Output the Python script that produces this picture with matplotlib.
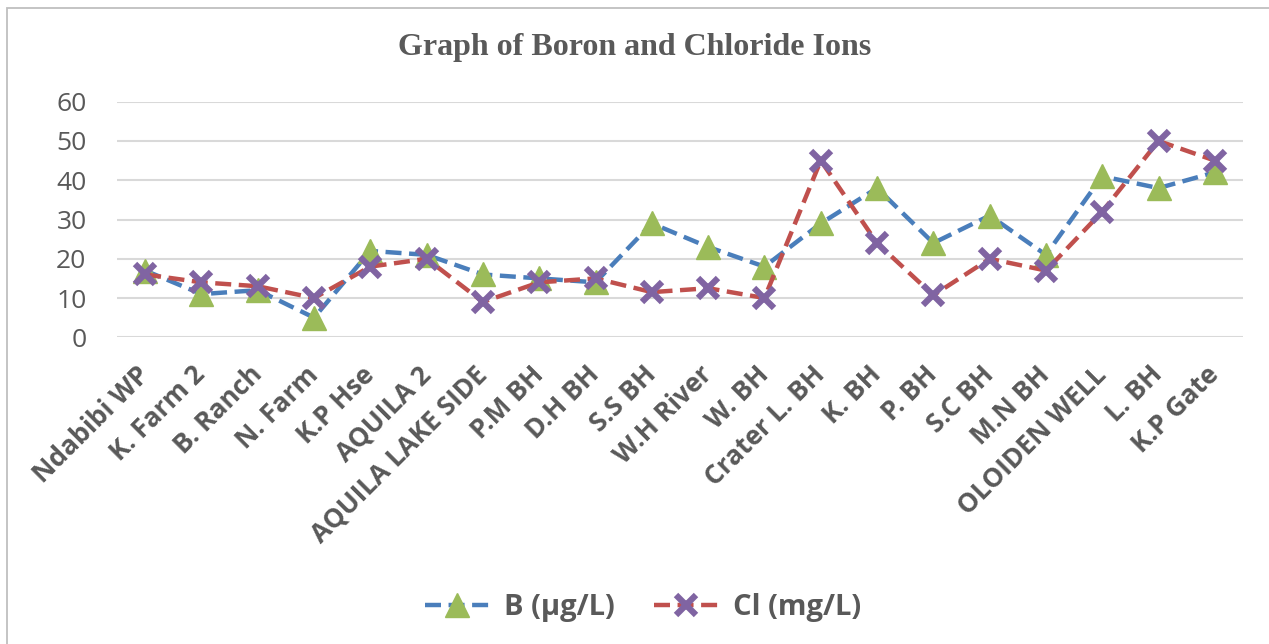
import matplotlib
matplotlib.use("Agg")
import matplotlib.pyplot as plt
from matplotlib.patches import Rectangle

sites = ["Ndabibi WP", "K. Farm 2", "B. Ranch", "N. Farm", "K.P Hse", "AQUILA 2",
         "AQUILA LAKE SIDE", "P.M BH", "D.H BH", "S.S BH", "W.H River", "W. BH",
         "Crater L. BH", "K. BH", "P. BH", "S.C BH", "M.N BH", "OLOIDEN WELL",
         "L. BH", "K.P Gate"]
boron = [17, 11, 12, 5, 22, 21, 16, 15, 14, 29, 23, 18, 29, 38, 24, 31, 21, 41, 38, 42]
chloride = [16, 14, 13, 10, 18, 20, 9, 14, 15, 11.5, 12.5, 10, 45, 24, 10.7, 20, 17, 32, 50, 45]
yticks = [0, 10, 20, 30, 40, 50, 60]

W, H = 1269, 644
fig = plt.figure(figsize=(W / 100, H / 100), dpi=100)
fig.patches.append(Rectangle((7 / W, -0.1), 1.2, 1 - 8 / H + 0.1, transform=fig.transFigure,
                             fill=False, edgecolor="#BFBFBF", linewidth=1.3))

ax = fig.add_axes([117 / W, 1 - 337.3 / H, (1243 - 117) / W, (337.3 - 101.7) / H])
x = list(range(len(sites)))
ax.plot(x, boron, color="#4A7EBB", linestyle=(0, (3.6, 1.7)), linewidth=3.2,
        marker="^", markersize=17, markerfacecolor="#9BBB59", markeredgecolor="#9BBB59",
        label="B (\u00b5g/L)", zorder=3)
ax.plot(x, chloride, color="#C0504D", linestyle=(0, (3.6, 1.7)), linewidth=3.2,
        marker="x", markersize=15, markeredgewidth=4.5, markeredgecolor="#8064A2",
        label="Cl (mg/L)", zorder=4)

ax.set_xlim(-0.5, len(sites) - 0.5)
ax.set_ylim(0, 60)
ax.set_yticks(yticks)
ax.yaxis.grid(True, color="#D9D9D9", linewidth=1.5)
ax.set_axisbelow(True)
for s in ax.spines.values():
    s.set_visible(False)
ax.tick_params(axis="both", length=0)
ax.tick_params(axis="y", pad=22, labelsize=19, labelcolor="#595959")
for lab in ax.get_yticklabels():
    lab.set_fontfamily("Open Sans")
ax.set_xticks(x)
ax.set_xticklabels(sites, rotation=45, ha="right", va="center", rotation_mode="anchor",
                   fontsize=19, fontweight="bold", color="#595959", fontfamily="Open Sans")
ax.tick_params(axis="x", pad=24)

fig.text(0.5, 1 - 48 / H, "Graph of Boron and Chloride Ions", ha="center", va="center",
         fontsize=23, fontweight="bold", color="#595959", fontfamily="Liberation Serif")

leg = fig.legend(loc="center", bbox_to_anchor=(643 / W, 1 - 608 / H), ncol=2, frameon=False,
                 prop={"family": "Open Sans", "weight": "bold", "size": 21},
                 handlelength=2.2, columnspacing=1.37, handletextpad=0.5)
for t in leg.get_texts():
    t.set_color("#595959")

fig.savefig("out.png", dpi=100)
